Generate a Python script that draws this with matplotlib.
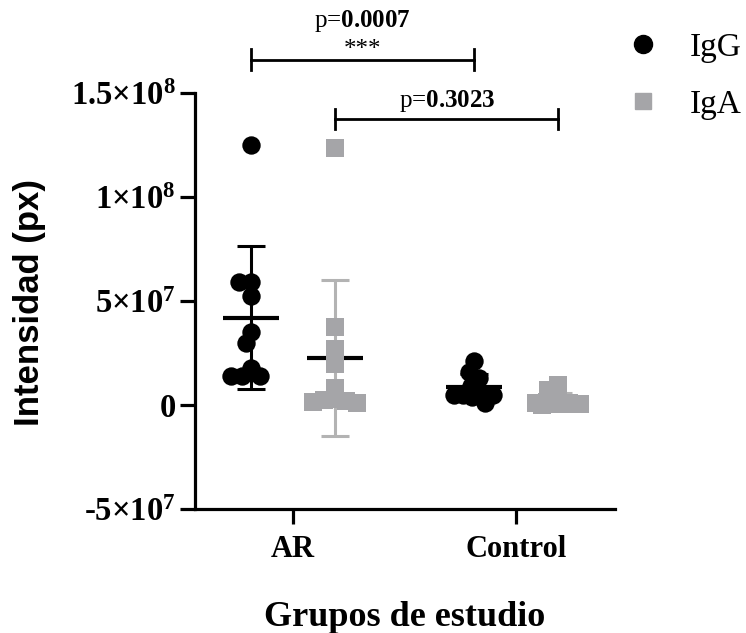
import numpy as np
import matplotlib
matplotlib.use("Agg")
import matplotlib.pyplot as plt
from matplotlib.lines import Line2D

# ---------------- data ----------------
groups = ["AR", "Control"]
series = ["IgG", "IgA"]
igg_ar = [125e6, 59e6, 59e6, 52.5e6, 35e6, 30e6, 17.6e6, 14e6, 14e6, 14e6]
iga_ar = [123.7e6, 37.4e6, 26.8e6, 19.6e6, 8.3e6, 3e6, 2.5e6, 2e6, 1.5e6, 1.2e6]
igg_ctrl = [21e6, 16e6, 13e6, 9e6, 6e6, 5e6, 5e6, 5e6, 4e6, 1e6]
iga_ctrl = [9.5e6, 7e6, 2e6, 1.5e6, 1e6, 1e6, 0.5e6, 0.5e6, 0.3e6, 0.2e6]
y_ticks = [-5e7, 0, 5e7, 1e8, 1.5e8]
y_tick_labels = [r"-5$\times$10$^{7}$", "0", r"5$\times$10$^{7}$",
                 r"1$\times$10$^{8}$", r"1.5$\times$10$^{8}$"]
p_values = ["0.0007", "0.3023"]
p_stars = ["***", ""]

# ---------------- style ----------------
plt.rcParams["mathtext.fontset"] = "custom"
plt.rcParams["mathtext.rm"] = "Liberation Serif:bold"
plt.rcParams["mathtext.it"] = "Liberation Serif:bold"
plt.rcParams["mathtext.bf"] = "Liberation Serif:bold"

W, H, DPI = 746, 633, 100
fig = plt.figure(figsize=(W / DPI, H / DPI), dpi=DPI)
left, right, top, bottom = 195, 615, 93, 509
ax = fig.add_axes([left / W, 1 - bottom / H, (right - left) / W, (bottom - top) / H])

pos = np.arange(len(groups))
off = 0.19
ax.set_xlim(-0.4395, 1.444)
ax.set_ylim(-5e7, 1.5e8)

black = "#000000"
gray = "#a5a5a8"
gray_err = "#b3b3b3"

data = {("AR", "IgG"): igg_ar, ("AR", "IgA"): iga_ar,
        ("Control", "IgG"): igg_ctrl, ("Control", "IgA"): iga_ctrl}

px_per_x = (right - left) / (ax.get_xlim()[1] - ax.get_xlim()[0])
px_per_y = (bottom - top) / (ax.get_ylim()[1] - ax.get_ylim()[0])


def swarm(values, mind=11.0, maxw=24.0, step=1.0):
    """Greedy beeswarm offsets (in pixels), limited width."""
    vals = np.asarray(values)
    order = np.argsort(-vals)
    placed = []
    offs = np.zeros(len(vals))
    cands = np.arange(-maxw, maxw + step / 2, step)
    cands = cands[np.argsort(np.abs(cands), kind="stable")]
    for i in order:
        yp = vals[i] * px_per_y
        best, bestd = 0.0, -1.0
        chosen = None
        for c in cands:
            if placed:
                d = min(np.hypot(xo - c, yo - yp) for xo, yo in placed)
            else:
                d = np.inf
            if d >= mind:
                chosen = c
                break
            if d > bestd + 1e-9:
                best, bestd = c, d
        if chosen is None:
            chosen = best
        offs[i] = chosen
        placed.append((chosen, yp))
    return offs / px_per_x


mean_half = 28 / px_per_x
cap_half = 14 / px_per_x

for gi, g in enumerate(groups):
    for si, s in enumerate(series):
        vals = np.asarray(data[(g, s)])
        xc = pos[gi] + (-off if s == "IgG" else off)
        m = vals.mean()
        sd = vals.std(ddof=1)
        ecol = black if s == "IgG" else gray_err
        ax.plot([xc, xc], [m - sd, m + sd], color=ecol, lw=2.2, zorder=2,
                solid_capstyle="butt")
        for yy in (m - sd, m + sd):
            ax.plot([xc - cap_half, xc + cap_half], [yy, yy], color=ecol, lw=2.2,
                    zorder=2, solid_capstyle="butt")
        ax.plot([xc - mean_half, xc + mean_half], [m, m], color=black, lw=3,
                zorder=3, solid_capstyle="butt")
        if s == "IgG":
            xs = xc + swarm(vals, mind=11.5, maxw=20)
            ax.scatter(xs, vals, s=175, marker="o", color=black, zorder=4,
                       linewidths=0)
        else:
            xs = xc + swarm(vals, mind=11.0, maxw=22)
            ax.scatter(xs, vals, s=150, marker="s", color=gray, zorder=4,
                       linewidths=0)

# axes styling
for sp in ("top", "right"):
    ax.spines[sp].set_visible(False)
for sp in ("left", "bottom"):
    ax.spines[sp].set_linewidth(2.3)
ax.set_xticks(pos)
ax.set_xticklabels(groups, fontfamily="Liberation Serif", fontweight="bold",
                   fontsize=22)
ax.set_yticks(y_ticks)
ax.set_yticklabels(y_tick_labels, fontfamily="Liberation Serif",
                   fontweight="bold", fontsize=23.5)
ax.tick_params(axis="both", direction="out", length=11, width=2.3, pad=3)
ax.tick_params(axis="x", pad=8)

ax.set_ylabel("Intensidad (px)", fontfamily="Liberation Sans", fontweight="bold",
              fontsize=25)
ax.yaxis.set_label_coords((46 - left) / (right - left), (bottom - 302) / (bottom - top))
ax.set_xlabel("Grupos de estudio", fontfamily="Liberation Serif",
              fontweight="bold", fontsize=26, labelpad=26)

# significance brackets
bracket_y = [166e6, 137.5e6]
tick_h = 5e6
for k, s in enumerate(series):
    xo = -off if s == "IgG" else off
    x1, x2 = pos[0] + xo, pos[1] + xo
    yb = bracket_y[k]
    ax.plot([x1, x2], [yb, yb], color=black, lw=2, clip_on=False, zorder=5)
    for xx in (x1, x2):
        ax.plot([xx, xx], [yb - tick_h, yb + tick_h], color=black, lw=2,
                clip_on=False, zorder=5)
    xm = (x1 + x2) / 2
    if p_stars[k]:
        ax.text(xm, yb - 0.5e6, p_stars[k], ha="center", va="bottom",
                fontfamily="Liberation Serif", fontsize=18, clip_on=False)
        ty = yb + 12.5e6
    else:
        ty = yb + 2.5e6
    ax.text(xm, ty, r"p=$\mathbf{" + p_values[k] + "}$", ha="center",
            va="bottom", fontfamily="Liberation Serif", fontsize=18,
            clip_on=False)

# legend
handles = [Line2D([], [], marker="o", color=black, ls="none", markersize=13),
           Line2D([], [], marker="s", color=gray, ls="none", markersize=12)]
leg = fig.legend(handles, series, loc="upper left",
                 bbox_to_anchor=(610 / W, 1 - 19 / H), frameon=False,
                 borderaxespad=0,
                 prop={"family": "Liberation Serif", "size": 24},
                 handletextpad=0.8, labelspacing=0.8, handlelength=1.2)

fig.savefig("out.png", dpi=DPI)
